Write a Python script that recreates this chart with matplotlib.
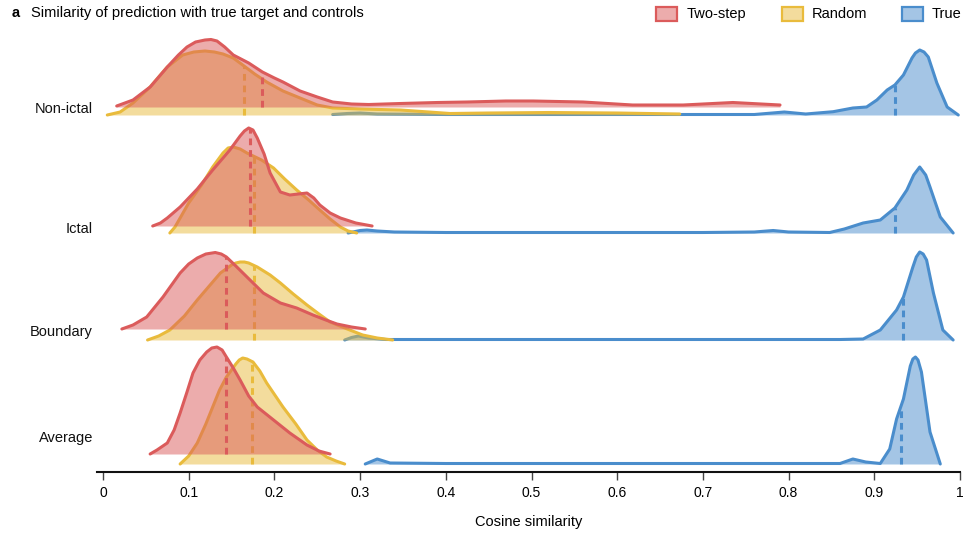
import numpy as np
import matplotlib
matplotlib.use("Agg")
import matplotlib.pyplot as plt
from matplotlib.patches import Rectangle

plt.rcParams['font.family'] = ['Liberation Sans', 'DejaVu Sans']

# rows, top to bottom
rows = ["Non-ictal", "Ictal", "Boundary", "Average"]
series = ["Two-step", "Random", "True"]

# density outlines: x = cosine similarity, h = ridge height
twostep_x = [
    [0.016, 0.035, 0.055, 0.075, 0.088, 0.098, 0.108, 0.119, 0.126, 0.133, 0.142, 0.152, 0.17,
     0.186, 0.2, 0.21, 0.23, 0.25, 0.268, 0.29, 0.31, 0.347, 0.39, 0.425, 0.47, 0.502, 0.56,
     0.618, 0.677, 0.735, 0.79],
    [0.058, 0.067, 0.075, 0.09, 0.11, 0.128, 0.148, 0.16, 0.165, 0.17, 0.175, 0.18, 0.188,
     0.195, 0.207, 0.218, 0.228, 0.238, 0.246, 0.253, 0.265, 0.277, 0.295, 0.314],
    [0.022, 0.035, 0.051, 0.07, 0.08, 0.09, 0.1, 0.11, 0.12, 0.131, 0.138, 0.144, 0.155, 0.168,
     0.187, 0.207, 0.226, 0.245, 0.26, 0.273, 0.29, 0.306],
    [0.055, 0.063, 0.075, 0.083, 0.09, 0.098, 0.105, 0.113, 0.121, 0.127, 0.133, 0.139, 0.144,
     0.152, 0.16, 0.17, 0.18, 0.199, 0.218, 0.238, 0.252, 0.265],
]
twostep_h = [
    [1, 7, 20, 40, 52, 60, 65, 67, 67.5, 66, 60, 52, 44, 35, 29, 25, 16, 10, 5, 3, 2.5, 3.5,
     4.5, 5, 6, 6, 5, 2, 2, 4.5, 2],
    [0, 3, 8, 19, 37, 56, 76, 90, 95, 98, 96, 88, 72, 53, 34, 31, 32, 33, 28, 21, 13, 8, 3, 0],
    [0, 4, 12, 32, 44, 56, 65, 71, 75, 76.5, 75, 72, 63, 52, 36, 26, 21, 14, 9, 5, 2, 0],
    [0, 4, 11, 24, 41, 62, 81, 94, 102, 106, 107, 104, 97, 86, 74, 58, 47, 34, 21, 9, 3, 0],
]

random_x = [
    [0.005, 0.02, 0.035, 0.055, 0.075, 0.093, 0.106, 0.119, 0.13, 0.14, 0.152, 0.163, 0.177,
     0.191, 0.21, 0.23, 0.25, 0.268, 0.3, 0.347, 0.405, 0.45, 0.52, 0.6, 0.673],
    [0.078, 0.084, 0.09, 0.1, 0.115, 0.128, 0.14, 0.146, 0.152, 0.16, 0.168, 0.185, 0.199,
     0.212, 0.226, 0.24, 0.253, 0.265, 0.277, 0.286, 0.296],
    [0.052, 0.065, 0.078, 0.095, 0.11, 0.125, 0.137, 0.15, 0.155, 0.16, 0.165, 0.17, 0.18,
     0.195, 0.207, 0.222, 0.238, 0.252, 0.265, 0.285, 0.303, 0.32, 0.338],
    [0.09, 0.1, 0.11, 0.12, 0.128, 0.136, 0.144, 0.155, 0.159, 0.163, 0.168, 0.175, 0.183,
     0.191, 0.21, 0.225, 0.238, 0.25, 0.261, 0.272, 0.282],
]
random_h = [
    [0, 3, 12, 28, 48, 60, 63, 64, 63, 61, 57, 50, 41, 33, 24, 17, 10, 7, 6, 5, 1.5, 2, 2.5,
     2, 1],
    [0, 6, 15, 30, 48, 66, 80, 85, 86, 84, 80, 73, 65, 54, 43, 33, 23, 14, 6, 2, 0],
    [0, 4, 10, 24, 40, 55, 67, 75, 77, 78, 78, 77, 73, 65, 57, 46, 35, 26, 18, 11, 5, 2, 0],
    [0, 8, 21, 40, 57, 74, 87, 100, 104, 106, 105, 102, 93, 81, 57, 40, 24, 14, 7, 3, 0],
]

true_x = [
    [0.268, 0.285, 0.3, 0.32, 0.4, 0.5, 0.6, 0.7, 0.76, 0.795, 0.82, 0.852, 0.875, 0.891,
     0.903, 0.915, 0.924, 0.934, 0.944, 0.948, 0.953, 0.958, 0.963, 0.973, 0.985, 0.998],
    [0.286, 0.3, 0.308, 0.32, 0.34, 0.4, 0.5, 0.6, 0.7, 0.76, 0.782, 0.8, 0.848, 0.865, 0.887,
     0.907, 0.924, 0.938, 0.946, 0.953, 0.96, 0.965, 0.977, 0.992],
    [0.282, 0.29, 0.298, 0.31, 0.33, 0.4, 0.5, 0.6, 0.7, 0.8, 0.86, 0.887, 0.907, 0.926, 0.934,
     0.945, 0.949, 0.953, 0.957, 0.961, 0.969, 0.98, 0.992],
    [0.306, 0.32, 0.335, 0.4, 0.5, 0.6, 0.7, 0.8, 0.86, 0.875, 0.89, 0.907, 0.918, 0.926,
     0.934, 0.942, 0.945, 0.948, 0.951, 0.955, 0.965, 0.977],
]
true_h = [
    [0.5, 1.5, 2, 1, 0.5, 0.5, 0.5, 0.5, 0.5, 3, 1, 3.3, 7, 8, 15, 25, 30, 40, 57, 62, 65,
     63, 58, 32, 8, 0],
    [0, 2.5, 3, 2, 1, 0.5, 0.5, 0.5, 0.5, 1, 2.5, 1, 0.5, 4, 10, 13, 25, 43, 58, 66, 58, 46,
     16, 0],
    [0, 2.5, 4, 2, 0.5, 0.5, 0.5, 0.5, 0.5, 0.5, 0.5, 1, 10, 30, 43, 73, 83, 88, 86, 80, 47,
     10, 0],
    [0, 5, 1, 0.5, 0.5, 0.5, 0.5, 0.5, 0.5, 5, 2, 0.5, 15, 45, 65, 98, 105, 107, 104, 92, 32, 0],
]

# dashed marker positions (cosine similarity) per row
twostep_mark = [0.186, 0.172, 0.144, 0.144]
random_mark = [0.164, 0.176, 0.176, 0.174]
true_mark = [0.924, 0.924, 0.934, 0.931]

W, H = 963, 533
fig = plt.figure(figsize=(W / 100, H / 100), dpi=100)

def fx(x):
    return x / W

def fy(y):
    return 1 - y / H

# axes in pixel units: x from 97 to 960 px, y from 25 (top) to 472 (bottom)
ax = fig.add_axes([fx(97), fy(472), fx(960 - 97), (472 - 25) / H])
x0_px, x1_px = 103, 960
ax.set_xlim((97 - x0_px) / (x1_px - x0_px), 1.0)
ax.set_ylim(472, 25)

red = '#db5b5b'
yellow = '#e9bb3c'
blue = '#4a8dcc'

# baselines in pixels (random / true share one, two-step sits a bit higher)
base = [115, 233, 340, 464]
red_base = [107, 226, 329, 454]

def ridge(xs, hs, b, color, mark, z):
    xs = np.asarray(xs)
    ys = b - np.asarray(hs)
    ax.fill_between(xs, ys, b, color=color, alpha=0.5, lw=0, zorder=z)
    ax.plot(xs, ys, color=color, lw=2.2, solid_capstyle='round', solid_joinstyle='round', zorder=z + 0.5)
    top = b - np.interp(mark, xs, hs)
    ax.plot([mark, mark], [b, top], color=color, lw=2.2, ls=(0, (2.2, 1.6)), zorder=z + 0.6)

for i in range(len(rows)):
    ridge(true_x[i], true_h[i], base[i], blue, true_mark[i], 1)
    ridge(random_x[i], random_h[i], base[i], yellow, random_mark[i], 2)
    ridge(twostep_x[i], twostep_h[i], red_base[i], red, twostep_mark[i], 3)

label_y = [109, 229, 332, 438]
for name, ly in zip(rows, label_y):
    fig.text(fx(93), fy(ly), name, ha='right', va='center', fontsize=10.5, color='#111111')

for s in ['left', 'right', 'top']:
    ax.spines[s].set_visible(False)
ax.spines['bottom'].set_linewidth(1.5)
ax.spines['bottom'].set_color('#111111')
ax.set_yticks([])
ticks = np.round(np.arange(0, 1.01, 0.1), 1)
ax.set_xticks(ticks)
ax.set_xticklabels(['0'] + [f'{t:.1f}' for t in ticks[1:-1]] + ['1'])
ax.tick_params(axis='x', length=6, width=1, color='#444444', labelsize=10, pad=4)
ax.set_xlabel('Cosine similarity', fontsize=10.5, labelpad=11)

fig.text(fx(12), fy(13), 'a', fontsize=10.5, fontweight='bold', va='center')
fig.text(fx(31), fy(13), 'Similarity of prediction with true target and controls', fontsize=10.6, va='center')

legend = [('Two-step', red, 656, 687), ('Random', yellow, 782, 812), ('True', blue, 902, 932)]
for name, c, rx, tx in legend:
    fig.patches.append(Rectangle((fx(rx), fy(21)), fx(21), 14 / H, transform=fig.transFigure,
                                 facecolor=c, alpha=0.5, edgecolor='none'))
    fig.patches.append(Rectangle((fx(rx), fy(21)), fx(21), 14 / H, transform=fig.transFigure,
                                 facecolor='none', edgecolor=c, lw=1.6))
    fig.text(fx(tx), fy(14), name, fontsize=10.5, va='center')

fig.savefig('out.png', dpi=100)
